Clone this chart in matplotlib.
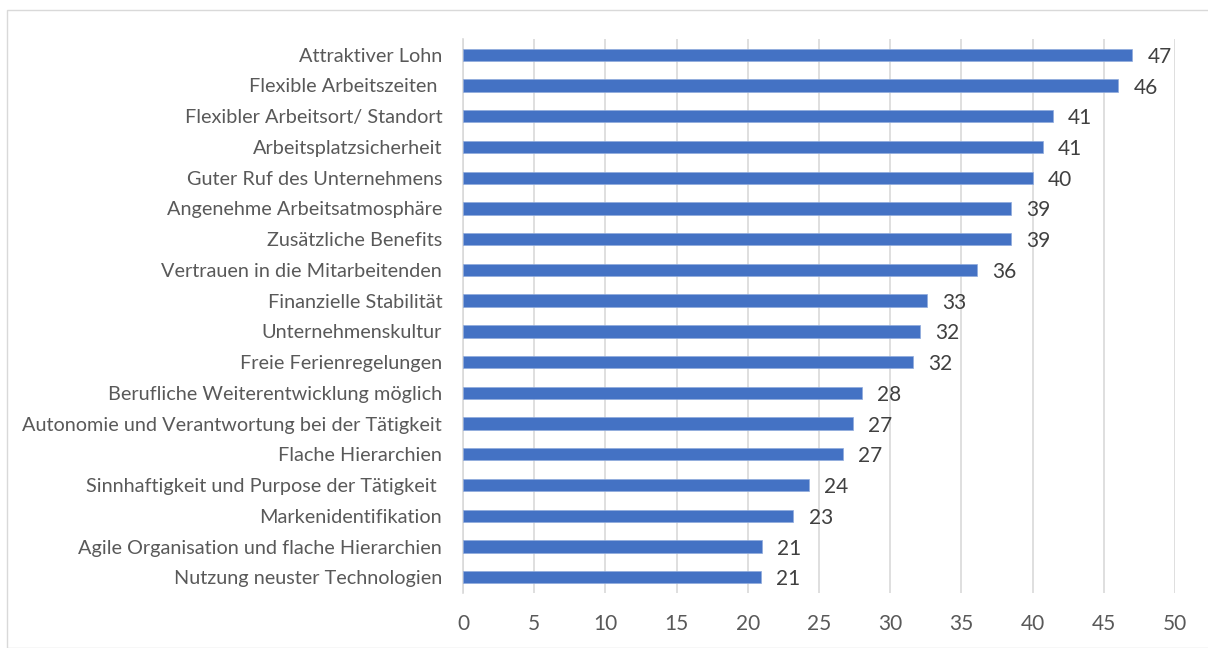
import matplotlib
matplotlib.use("Agg")
import matplotlib.pyplot as plt
from matplotlib.patches import Rectangle

categories = [
    "Attraktiver Lohn",
    "Flexible Arbeitszeiten ",
    "Flexibler Arbeitsort/ Standort",
    "Arbeitsplatzsicherheit",
    "Guter Ruf des Unternehmens",
    "Angenehme Arbeitsatmosphäre",
    "Zusätzliche Benefits",
    "Vertrauen in die Mitarbeitenden",
    "Finanzielle Stabilität",
    "Unternehmenskultur",
    "Freie Ferienregelungen",
    "Berufliche Weiterentwicklung möglich",
    "Autonomie und Verantwortung bei der Tätigkeit",
    "Flache Hierarchien",
    "Sinnhaftigkeit und Purpose der Tätigkeit ",
    "Markenidentifikation",
    "Agile Organisation und flache Hierarchien",
    "Nutzung neuster Technologien",
]
values = [47.0, 46.0, 41.4, 40.7, 40.0, 38.5, 38.5, 36.1, 32.6, 32.1,
          31.6, 28.0, 27.4, 26.7, 24.3, 23.2, 21.0, 20.9]
value_labels = ["47", "46", "41", "41", "40", "39", "39", "36", "33", "32",
                "32", "28", "27", "27", "24", "23", "21", "21"]
xticks = [0, 5, 10, 15, 20, 25, 30, 35, 40, 45, 50]

plt.rcParams['font.family'] = ['Lato', 'DejaVu Sans']

W, H = 1208, 648
fig = plt.figure(figsize=(W / 100, H / 100), dpi=100)
fig.patch.set_facecolor("white")
fig.patches.append(Rectangle((7 / W, 0), 1.0, 1 - 10 / H, transform=fig.transFigure,
                             fill=False, edgecolor="#d9d9d9", linewidth=1.0))

ax = fig.add_axes([463 / W, 1 - 592.7 / H, (1175 - 463) / W, (592.7 - 39.3) / H])
y = list(range(len(categories)))
ax.barh(y, values, height=0.4, color="#4472C4", edgecolor="#8faadc", linewidth=0.5, zorder=3)
for yi, v, lab in zip(y, values, value_labels):
    ax.annotate(lab, xy=(v, yi), xytext=(11, -1.5), textcoords="offset points",
                va="center", ha="left", fontsize=15, color="#404040")

ax.set_ylim(len(categories) - 0.5, -0.5)
ax.set_xlim(0, 50)
ax.set_yticks(y)
ax.set_yticklabels(categories, fontsize=14.3, color="#595959")
ax.set_xticks(xticks)
ax.set_xticklabels([str(t) for t in xticks], fontsize=15, color="#595959")
ax.tick_params(axis="y", length=0, pad=15)
ax.tick_params(axis="x", length=0, pad=15)
ax.grid(axis="x", color="#d9d9d9", linewidth=1.2, zorder=0)
for s in ["top", "right", "bottom"]:
    ax.spines[s].set_visible(False)
ax.spines["left"].set_color("#d9d9d9")
ax.spines["left"].set_linewidth(1.2)

fig.savefig("out.png", dpi=100)
